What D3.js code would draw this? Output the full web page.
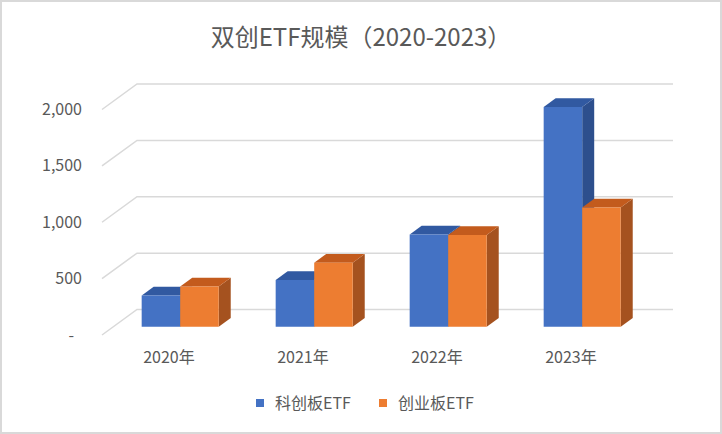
<!DOCTYPE html>
<html>
<head>
<meta charset="utf-8">
<script src="https://cdn.jsdelivr.net/npm/d3@7"></script>
<style>
  html, body { margin: 0; padding: 0; background: #fff; }
  svg { display: block; }
</style>
</head>
<body>
<div id="chart"></div>
<script>
const categories = ["2020年", "2021年", "2022年", "2023年"];
const seriesNames = ["科创板ETF", "创业板ETF"];
const kcbValues = [277, 416, 820, 1950];
const cybValues = [357, 569, 814, 1059];
const yTicks = [0, 500, 1000, 1500, 2000];
const titleText = "双创ETF规模（2020-2023）";

const W = 722, H = 434;
const colors = {
  front: ["#4472C4", "#ED7D31"],
  top: ["#3159A1", "#C35B1D"],
  side: ["#2D4F8D", "#A5521F"]
};
const textColor = "#595959";
const font = "'Noto Sans CJK SC', 'Noto Sans', sans-serif";

const svg = d3.select("#chart").append("svg").attr("width", W).attr("height", H);
svg.append("rect").attr("x", 1).attr("y", 1).attr("width", W - 2).attr("height", H - 2)
  .attr("fill", "#fff").attr("stroke", "#d9d9d9").attr("stroke-width", 2);

// title
svg.append("text").attr("x", W / 2).attr("y", 46).attr("text-anchor", "middle")
  .attr("font-family", font).attr("font-size", 24).attr("fill", textColor).text(titleText);

// 3D geometry
const x0 = 102, y0 = 335;            // front-left floor corner
const depth = { dx: 35, dy: -25.5 };  // depth vector to back wall
const wallW = 536;
const y = d3.scaleLinear().domain([0, 2000]).range([0, 225.5]);
const xBand = d3.scaleBand().domain(categories).range([0, wallW]).paddingInner(0.425).paddingOuter(0.2125);
const xSub = d3.scaleBand().domain(seriesNames).range([0, xBand.bandwidth()]);

const d1 = 0.32, d2 = 0.663;
function P(x, v, d) { return [x0 + x + depth.dx * d, y0 - y(v) + depth.dy * d]; }

const grid = svg.append("g");
yTicks.forEach(t => {
  const a = P(0, t, 0), b = P(0, t, 1), c = P(wallW, t, 1);
  grid.append("path").attr("d", `M${a}L${b}L${c}`)
    .attr("fill", "none").attr("stroke", "#d9d9d9").attr("stroke-width", 1.5);
});

// y axis labels
const fmt = d3.format(",");
svg.append("g").selectAll("text").data(yTicks).join("text")
  .attr("x", d => d === 0 ? 74 : 82)
  .attr("y", d => y0 - y(d))
  .attr("dy", "0.35em")
  .attr("text-anchor", "end")
  .attr("font-family", font).attr("font-size", 16).attr("fill", textColor)
  .text(d => d === 0 ? "-" : fmt(d));

// bars
const series = [kcbValues, cybValues];
const barsG = svg.append("g");
categories.forEach((cat, i) => {
  series.forEach((vals, s) => {
    const v = vals[i];
    const xl = xBand(cat) + xSub(seriesNames[s]);
    const xr = xl + xSub.bandwidth();
    const fbl = P(xl, 0, d1), fbr = P(xr, 0, d1), ftl = P(xl, v, d1), ftr = P(xr, v, d1);
    const bbr = P(xr, 0, d2), btl = P(xl, v, d2), btr = P(xr, v, d2);
    barsG.append("path").attr("d", `M${fbr}L${bbr}L${btr}L${ftr}Z`).attr("fill", colors.side[s]);
    barsG.append("path").attr("d", `M${ftl}L${ftr}L${btr}L${btl}Z`).attr("fill", colors.top[s]);
    barsG.append("path").attr("d", `M${fbl}L${fbr}L${ftr}L${ftl}Z`).attr("fill", colors.front[s]);
  });
});

// category labels
svg.append("g").selectAll("text").data(categories).join("text")
  .attr("x", d => x0 + xBand(d) + xBand.bandwidth() / 2)
  .attr("y", 363)
  .attr("text-anchor", "middle")
  .attr("font-family", font).attr("font-size", 16).attr("fill", textColor)
  .text(d => d);

// legend
const legendX = [256, 379];
const lg = svg.append("g");
seriesNames.forEach((n, s) => {
  lg.append("rect").attr("x", legendX[s]).attr("y", 399).attr("width", 8).attr("height", 8)
    .attr("fill", colors.front[s]);
  lg.append("text").attr("x", legendX[s] + 19).attr("y", 403).attr("dy", "0.35em")
    .attr("font-family", font).attr("font-size", 16).attr("fill", textColor).text(n);
});
</script>
</body>
</html>
